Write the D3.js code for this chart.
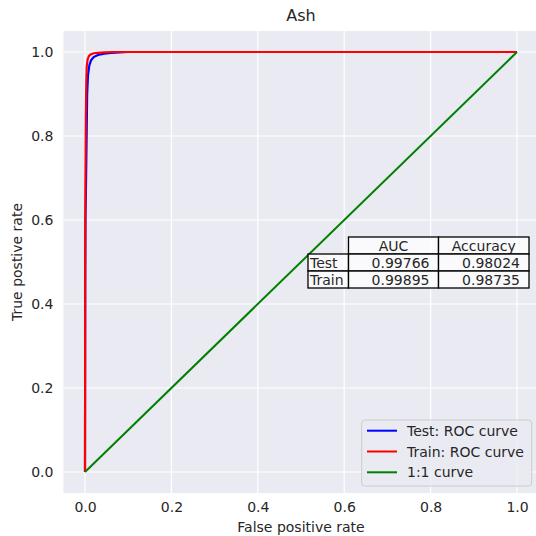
<!DOCTYPE html>
<html><head><meta charset="utf-8">
<script src="https://cdn.jsdelivr.net/npm/d3@7"></script>
<style>body{margin:0;background:#fff}svg{display:block;font-family:"DejaVu Sans",sans-serif}</style>
</head><body><svg id="c" width="536" height="536"></svg>
<script>
const title = "Ash";
const xLabel = "False positive rate";
const yLabel = "True postive rate";
const ticks = [0, 0.2, 0.4, 0.6, 0.8, 1.0];
const testFpr = [0, 0.0005, 0.001, 0.002, 0.003, 0.004, 0.005, 0.007, 0.01, 0.014, 0.02, 0.03, 0.045, 0.06, 0.08, 0.1, 0.15, 1];
const testTpr = [0, 0.45, 0.6, 0.66, 0.74, 0.82, 0.9, 0.945, 0.968, 0.98, 0.988, 0.993, 0.996, 0.998, 0.999, 1.0, 1.0, 1.0];
const trainFpr = [0, 0.0005, 0.001, 0.002, 0.003, 0.004, 0.006, 0.009, 0.013, 0.02, 0.03, 0.045, 0.07, 0.1, 1];
const trainTpr = [0, 0.5, 0.7, 0.85, 0.93, 0.965, 0.982, 0.99, 0.994, 0.997, 0.998, 0.999, 1.0, 1.0, 1.0];
const diagX = [0, 1];
const diagY = [0, 1];
const seriesNames = ["Test: ROC curve", "Train: ROC curve", "1:1 curve"];
const seriesColors = ["#0000ff", "#ff0000", "#008000"];
const tableCols = ["AUC", "Accuracy"];
const tableRows = ["Test", "Train"];
const aucVals = ["0.99766", "0.99895"];
const accVals = ["0.98024", "0.98735"];

const svg = d3.select("#c");
const L = 63.4, R = 538.6, T = 31, B = 493;
const x = d3.scaleLinear().domain([-0.05, 1.05]).range([L, R]);
const y = d3.scaleLinear().domain([-0.05, 1.05]).range([B, T]);
const txt = "#262626";
const fs = "14px";

svg.append("rect").attr("x", L).attr("y", T).attr("width", R - L).attr("height", B - T).attr("fill", "#eaeaf2");
const g = svg.append("g");
g.selectAll(".gx").data(ticks).join("line").attr("x1", d => x(d)).attr("x2", d => x(d)).attr("y1", T).attr("y2", B).attr("stroke", "#fff").attr("stroke-width", 1.2);
g.selectAll(".gy").data(ticks).join("line").attr("y1", d => y(d)).attr("y2", d => y(d)).attr("x1", L).attr("x2", R).attr("stroke", "#fff").attr("stroke-width", 1.2);

const xa = svg.append("g").attr("transform", `translate(0,${B})`).call(d3.axisBottom(x).tickValues(ticks).tickFormat(d3.format(".1f")).tickSize(0).tickPadding(9));
xa.select(".domain").remove();
xa.selectAll("text").attr("fill", txt).style("font-size", fs).style("font-family", "DejaVu Sans");
const ya = svg.append("g").attr("transform", `translate(${L},0)`).call(d3.axisLeft(y).tickValues(ticks).tickFormat(d3.format(".1f")).tickSize(0).tickPadding(10));
ya.select(".domain").remove();
ya.selectAll("text").attr("fill", txt).style("font-size", fs).style("font-family", "DejaVu Sans");

const line = d3.line().x(d => x(d[0])).y(d => y(d[1]));
svg.append("clipPath").attr("id", "cp").append("rect").attr("x", L).attr("y", T).attr("width", R - L).attr("height", B - T);
const pg = svg.append("g").attr("clip-path", "url(#cp)");
pg.append("path").attr("d", line(testFpr.map((v, i) => [v, testTpr[i]]))).attr("fill", "none").attr("stroke", seriesColors[0]).attr("stroke-width", 2.2);
pg.append("path").attr("d", line(trainFpr.map((v, i) => [v, trainTpr[i]]))).attr("fill", "none").attr("stroke", seriesColors[1]).attr("stroke-width", 2.2);
pg.append("path").attr("d", line(diagX.map((v, i) => [v, diagY[i]]))).attr("fill", "none").attr("stroke", seriesColors[2]).attr("stroke-width", 2);

// table
const tb = svg.append("g");
const colX = [308, 348.5, 438.5, 529];
const rowY = [237, 254, 271, 288];
const cellFill = "rgba(255,255,255,0.75)";
tableCols.forEach((c, j) => {
  tb.append("rect").attr("x", colX[j + 1]).attr("y", rowY[0]).attr("width", colX[j + 2] - colX[j + 1]).attr("height", rowY[1] - rowY[0]).attr("fill", cellFill).attr("stroke", "#000").attr("stroke-width", 1.3);
  tb.append("text").attr("x", (colX[j + 1] + colX[j + 2]) / 2).attr("y", rowY[1] - 3).attr("text-anchor", "middle").attr("fill", txt).style("font-size", fs).text(c);
});
tableRows.forEach((r, i) => {
  const yy = rowY[i + 1], hh = rowY[i + 2] - rowY[i + 1];
  tb.append("rect").attr("x", colX[0]).attr("y", yy).attr("width", colX[1] - colX[0]).attr("height", hh).attr("fill", cellFill).attr("stroke", "#000").attr("stroke-width", 1.3);
  tb.append("text").attr("x", colX[0] + 2).attr("y", yy + hh - 3).attr("fill", txt).style("font-size", fs).text(r);
  [aucVals[i], accVals[i]].forEach((v, j) => {
    tb.append("rect").attr("x", colX[j + 1]).attr("y", yy).attr("width", colX[j + 2] - colX[j + 1]).attr("height", hh).attr("fill", cellFill).attr("stroke", "#000").attr("stroke-width", 1.3);
    tb.append("text").attr("x", colX[j + 2] - 9).attr("y", yy + hh - 3).attr("text-anchor", "end").attr("fill", txt).style("font-size", fs).text(v);
  });
});

// legend
const lg = svg.append("g");
lg.append("rect").attr("x", 361.7).attr("y", 420).attr("width", 170).attr("height", 66).attr("rx", 3).attr("fill", "rgba(234,234,242,0.8)").attr("stroke", "#cccccc").attr("stroke-width", 1);
seriesNames.forEach((n, i) => {
  const yy = 430.7 + i * 20.8;
  lg.append("line").attr("x1", 367).attr("x2", 397).attr("y1", yy).attr("y2", yy).attr("stroke", seriesColors[i]).attr("stroke-width", 2);
  lg.append("text").attr("x", 407).attr("y", yy + 5).attr("fill", txt).style("font-size", fs).text(n);
});

svg.append("text").attr("x", (L + R) / 2).attr("y", 21).attr("text-anchor", "middle").attr("fill", txt).style("font-size", "16px").text(title);
svg.append("text").attr("x", (L + R) / 2).attr("y", 532).attr("text-anchor", "middle").attr("fill", txt).style("font-size", fs).text(xLabel);
svg.append("text").attr("transform", `translate(22,${(T + B) / 2}) rotate(-90)`).attr("text-anchor", "middle").attr("fill", txt).style("font-size", fs).text(yLabel);
</script></body></html>
